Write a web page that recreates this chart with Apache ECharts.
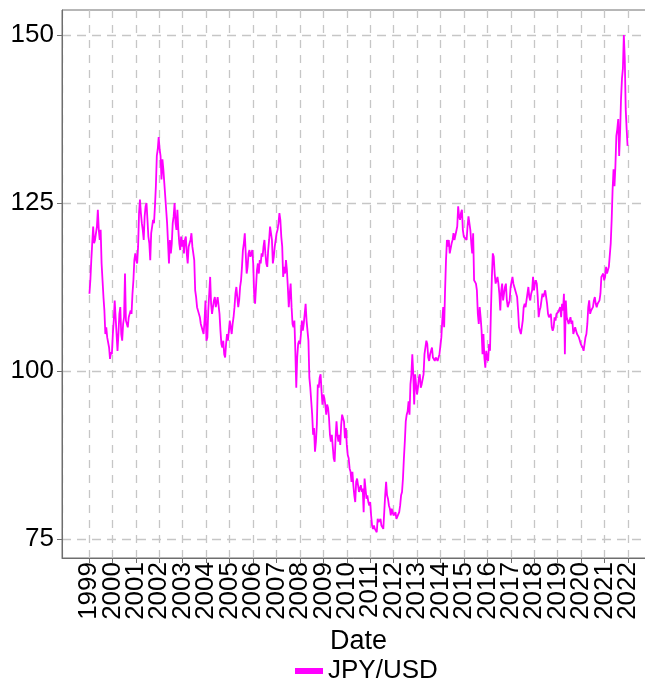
<!DOCTYPE html>
<html>
<head>
<meta charset="utf-8">
<script src="https://cdn.jsdelivr.net/npm/echarts@6/dist/echarts.min.js"></script>
<style>
  html, body { margin: 0; padding: 0; background: #ffffff; }
  #chart { width: 645px; height: 686px; }
</style>
</head>
<body>
<div id="chart"></div>
<script>
// Two readings per month (early / late), JPY per USD
const startYear = 1999;
const readingsPerYear = 24;
const y1999 = [111.5,113.5, 116.5,119.0, 121.5,119.0, 119.5,120.5, 121.5,124.0, 121.0,119.5, 121.0,116.0, 113.5,111.0, 109.0,105.5, 106.5,105.0, 105.0,103.5, 101.8,102.8];
const y2000 = [102.5,105.5, 107.5,110.5, 108.0,105.5, 103.0,105.5, 108.5,109.5, 105.5,104.5, 107.0,108.0, 114.5,107.5, 107.0,106.5, 108.0,108.5, 109.0,108.5, 111.5,113.5];
const y2001 = [116.5,117.5, 116.5,116.0, 118.5,123.5, 125.5,123.5, 122.0,121.0, 119.5,123.0, 124.5,125.0, 122.5,120.0, 119.0,116.5, 120.5,121.5, 122.5,122.0, 124.5,127.5];
const y2002 = [132.0,133.0, 134.8,133.0, 132.0,128.5, 131.5,130.0, 128.0,126.0, 124.0,122.0, 119.0,116.0, 119.5,117.5, 119.0,122.0, 123.0,125.0, 122.0,121.0, 124.0,121.0];
const y2003 = [119.0,118.0, 120.0,118.5, 119.5,117.5, 119.5,120.0, 117.5,116.0, 118.5,119.0, 119.5,120.5, 118.5,117.5, 116.5,112.0, 111.0,109.5, 109.5,108.5, 108.0,107.0];
const y2004 = [106.5,106.0, 105.5,107.5, 110.5,104.5, 105.0,109.0, 111.5,114.0, 110.0,108.5, 108.5,110.5, 111.0,109.5, 109.5,111.0, 111.0,108.5, 106.0,104.0, 103.5,104.5];
const y2005 = [102.5,102.0, 104.0,105.5, 104.5,106.0, 107.5,106.5, 105.5,107.0, 108.0,109.5, 111.5,112.5, 111.0,109.5, 110.5,112.5, 113.5,115.5, 118.0,119.0, 120.5,117.5];
const y2006 = [114.5,115.5, 117.5,118.0, 117.0,117.5, 118.0,116.0, 111.5,110.0, 112.5,115.0, 116.0,114.5, 116.5,116.0, 117.5,117.0, 118.5,119.5, 117.5,116.0, 115.5,118.0];
const y2007 = [119.5,121.5, 120.5,119.5, 116.0,117.0, 118.5,119.5, 120.5,121.0, 122.0,123.5, 122.5,120.0, 118.5,114.0, 115.5,114.5, 116.5,115.0, 112.5,109.5, 111.5,113.0];
const y2008 = [109.5,107.0, 106.5,107.5, 103.0,97.5, 102.0,104.0, 104.5,104.0, 105.5,107.5, 106.0,107.0, 108.5,110.0, 107.5,106.0, 104.5,99.0, 97.5,95.5, 93.5,90.5];
const y2009 = [91.5,88.0, 89.5,92.0, 98.0,97.5, 99.0,99.5, 97.0,95.0, 96.5,96.0, 95.0,93.5, 95.0,94.5, 93.0,90.5, 89.5,90.5, 90.5,87.0, 86.5,90.0];
const y2010 = [92.5,90.5, 89.5,90.5, 89.0,92.0, 93.5,93.5, 92.5,90.0, 91.5,89.0, 87.5,87.0, 85.5,85.0, 83.5,85.0, 83.0,81.5, 80.5,83.5, 84.0,83.0];
const y2011 = [82.0,82.5, 83.0,82.0, 82.5,79.0, 84.0,82.5, 81.0,81.5, 80.5,80.0, 80.5,78.5, 77.0,76.5, 77.0,76.5, 76.5,76.0, 78.0,77.5, 77.5,78.0];
const y2012 = [77.0,76.8, 76.5,79.0, 81.5,83.5, 81.5,81.0, 80.0,79.5, 78.5,79.5, 79.5,78.5, 78.5,79.0, 78.0,77.8, 78.0,79.0, 80.0,81.5, 82.0,84.0];
const y2013 = [87.0,89.5, 92.5,93.5, 94.0,95.5, 93.5,98.0, 99.5,102.5, 99.5,95.0, 99.5,99.5, 96.5,97.5, 99.0,99.5, 97.5,98.0, 98.0,99.5, 102.5,103.5];
const y2014 = [104.5,104.0, 102.0,101.5, 102.5,102.5, 103.5,102.0, 102.0,101.5, 102.0,101.8, 101.5,101.5, 102.5,102.5, 105.0,107.5, 109.5,106.5, 112.0,116.5, 119.5,118.5];
const y2015 = [119.5,117.5, 117.5,119.0, 119.5,120.5, 119.5,119.5, 119.5,121.5, 124.5,123.0, 122.5,123.5, 124.0,121.0, 120.0,120.0, 120.0,119.5, 121.5,123.0, 123.0,121.0];
const y2016 = [119.0,117.5, 120.5,113.5, 113.5,113.0, 112.0,108.5, 107.0,109.5, 108.0,106.0, 102.5,105.5, 102.0,100.5, 103.0,102.0, 101.5,104.0, 103.0,109.0, 114.0,117.5];
const y2017 = [117.0,114.5, 113.0,113.5, 114.0,113.0, 111.5,109.0, 112.0,113.0, 110.5,110.5, 112.5,113.0, 110.5,109.5, 110.0,110.5, 112.5,112.5, 114.0,113.0, 112.5,112.5];
const y2018 = [112.5,111.0, 109.0,106.5, 106.0,105.5, 106.5,107.5, 109.5,110.0, 109.5,110.5, 110.5,112.5, 111.0,110.5, 111.5,112.0, 114.0,112.0, 113.0,113.5, 113.0,111.0];
const y2019 = [108.0,109.0, 109.5,110.5, 111.5,111.0, 111.5,112.0, 111.0,110.0, 108.5,108.0, 108.0,108.5, 106.5,106.0, 106.5,108.0, 107.5,108.5, 108.5,108.8, 108.8,109.5];
const y2020 = [108.0,110.0, 109.0,111.5, 102.5,110.5, 108.0,107.5, 107.0,107.5, 108.0,107.0, 107.5,105.5, 106.0,106.5, 106.0,105.5, 105.5,105.0, 104.5,104.0, 104.0,103.5];
const y2021 = [103.0,104.0, 105.0,105.5, 107.0,109.5, 110.5,108.5, 109.0,109.0, 109.5,110.5, 111.0,110.0, 109.5,110.0, 110.0,110.5, 111.5,114.0, 114.0,114.5, 113.5,114.0];
const y2022 = [115.5,114.5, 115.0,115.5, 115.5,119.0, 122.5,127.0, 130.0,127.5, 130.5,135.0, 136.0,137.5, 132.0,135.5, 140.5,143.5, 145.0,150.0, 146.5,139.0, 136.0,133.5];

const yearBlocks = [y1999,y2000,y2001,y2002,y2003,y2004,y2005,y2006,y2007,y2008,y2009,y2010,
                    y2011,y2012,y2013,y2014,y2015,y2016,y2017,y2018,y2019,y2020,y2021,y2022];
const tickLabels = ['1999','2000','2001','2002','2003','2004','2005','2006','2007','2008','2009','2010',
                    '2011','2012','2013','2014','2015','2016','2017','2018','2019','2020','2021','2022'];
const yTicks = [75, 100, 125, 150];
const seriesName = 'JPY/USD';

// Axis ticks are evenly spread across the full data span: 24 labels over 24 years.
const totalYears = yearBlocks.length;
const tickUnitsPerYear = (tickLabels.length - 1) / totalYears;
const points = [];
yearBlocks.forEach((block, yi) => {
  block.forEach((v, k) => {
    const years = yi + (k + 0.5) / readingsPerYear;
    points.push([years * tickUnitsPerYear, v]);
  });
});
const X_MIN = -1.15, X_MAX = 24.15;
// edge placeholders (hidden via showMin/MaxLabel:false) so every real year label is kept
const xMarks = [X_MIN].concat(tickLabels.map((_, i) => i), [X_MAX]);

const FONT = 'Liberation Sans, Arial, Helvetica, sans-serif';
const chart = echarts.init(document.getElementById('chart'), null, { renderer: 'canvas' });
chart.setOption({
  animation: false,
  backgroundColor: '#ffffff',
  grid: {
    left: 62, top: 10, right: -10, bottom: 128,
    show: true, borderColor: '#6e6e6e', borderWidth: 1,
    containLabel: false, outerBoundsMode: 'none'
  },
  legend: {
    data: [seriesName],
    left: 290, top: 653,
    icon: 'rect', itemWidth: 28, itemHeight: 6, itemGap: 8,
    textStyle: { fontFamily: FONT, fontSize: 26, color: '#000' }
  },
  xAxis: {
    type: 'value',
    min: X_MIN, max: X_MAX, interval: 1,
    name: 'Date', nameLocation: 'middle', nameGap: 64,
    nameTextStyle: { fontFamily: FONT, fontSize: 27, color: '#000' },
    axisLine: { show: true, onZero: false, lineStyle: { color: '#6e6e6e', width: 1 } },
    axisTick: { show: true, length: 5, customValues: xMarks, lineStyle: { color: '#6e6e6e', width: 1 } },
    axisLabel: {
      show: true, customValues: xMarks, rotate: 90, margin: 4,
      showMinLabel: false, showMaxLabel: false, hideOverlap: false,
      fontFamily: FONT, fontSize: 26, lineHeight: 19, color: '#000',
      formatter: v => (Number.isInteger(v) ? tickLabels[v] : ' ')
    },
    splitLine: { show: true, lineStyle: { color: '#c6c6c6', width: 1.3, type: [8, 7] } }
  },
  yAxis: {
    type: 'value',
    min: 72.17, max: 153.72, interval: 25,
    axisLine: { show: true, onZero: false, lineStyle: { color: '#6e6e6e', width: 1 } },
    axisTick: { show: true, length: 5, customValues: yTicks, lineStyle: { color: '#6e6e6e', width: 1 } },
    axisLabel: {
      show: true, customValues: yTicks, margin: 8,
      showMinLabel: true, showMaxLabel: true,
      fontFamily: FONT, fontSize: 26, color: '#000'
    },
    splitLine: { show: true, lineStyle: { color: '#c6c6c6', width: 1.3, type: [9, 6] } }
  },
  series: [{
    name: seriesName,
    type: 'line',
    data: points,
    showSymbol: false,
    symbol: 'none',
    lineStyle: { color: '#ff00ff', width: 1.8 },
    itemStyle: { color: '#ff00ff' }
  }]
});
</script>
</body>
</html>
